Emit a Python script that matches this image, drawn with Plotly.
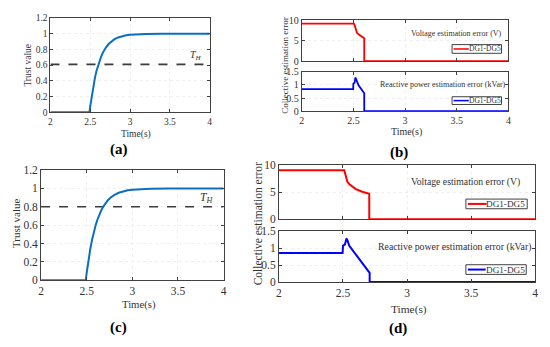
import plotly.graph_objects as go

W, H = 550, 347

# ---------------- data ----------------
time_trust = [2.0, 2.49, 2.50, 2.52, 2.54, 2.56, 2.58, 2.60, 2.62, 2.64, 2.66, 2.68, 2.70,
              2.73, 2.76, 2.80, 2.85, 2.90, 2.95, 3.00, 3.10, 3.20, 3.40, 4.0]
trust_value = [0, 0, 0.081, 0.224, 0.345, 0.447, 0.534, 0.606, 0.667, 0.719, 0.763, 0.800, 0.831,
               0.869, 0.899, 0.928, 0.953, 0.969, 0.980, 0.987, 0.994, 0.998, 1.0, 1.0]
th_a = 0.61
th_c = 0.80
th_x = [2.0, 4.0]

tb_v = [2.0, 2.505, 2.515, 2.525, 2.535, 2.55, 2.575, 2.605, 2.605, 4.0]
vb = [9.2, 9.2, 8.6, 7.8, 6.9, 6.6, 6.1, 5.6, 0, 0]
tb_q = [2.0, 2.498, 2.50, 2.512, 2.52, 2.535, 2.55, 2.605, 2.605, 4.0]
qb = [0.84, 0.84, 1.05, 1.08, 1.28, 1.12, 0.98, 0.68, 0, 0]

td_v = [2.0, 2.51, 2.515, 2.525, 2.535, 2.55, 2.575, 2.60, 2.65, 2.705, 2.705, 4.0]
vd = [9.1, 9.1, 8.6, 7.8, 6.9, 6.5, 6.0, 5.6, 5.1, 4.75, 0, 0]
td_q = [2.0, 2.497, 2.50, 2.515, 2.527, 2.535, 2.548, 2.60, 2.65, 2.708, 2.708, 4.0]
qd = [0.85, 0.85, 1.07, 1.10, 1.28, 1.22, 1.07, 0.81, 0.56, 0.27, 0, 0]

x_ticks = [2, 2.5, 3, 3.5, 4]
x_tick_text = ["2", "2.5", "3", "3.5", "4"]
trust_ticks = [0, 0.2, 0.4, 0.6, 0.8, 1.0, 1.2]
trust_tick_text = ["0", "0.2", "0.4", "0.6", "0.8", "1", "1.2"]
v_ticks = [0, 5, 10]
q_ticks = [0, 0.5, 1, 1.5]
q_tick_text = ["0", "0.5", "1", "1.5"]

# ---------------- helpers ----------------
def xd(l, r):
    return [l / W, r / W]

def yd(t, b):
    return [1 - b / H, 1 - t / H]

def px(x):
    return x / W

def py(y):
    return 1 - y / H

FONT = "Liberation Serif"
AX = "#404040"
TXT = "#333333"

def axis(domain, rng, tickvals, ticktext, size, anchor, showlabels=True):
    return dict(domain=domain, range=rng, tickvals=tickvals, ticktext=ticktext,
                showticklabels=showlabels, showline=True, linecolor=AX, linewidth=1,
                mirror="allticks", ticks="inside", ticklen=3, tickcolor=AX,
                zeroline=False, showgrid=True, gridcolor="#efefef", griddash="dot",
                tickfont=dict(family=FONT, size=size, color=TXT), anchor=anchor)

fig = go.Figure()
blue_t = "#0a6fc2"

# (a)
fig.add_trace(go.Scatter(x=th_x, y=[th_a, th_a], mode="lines",
                         line=dict(color="#3c3c3c", width=1.6, dash="dash"), xaxis="x", yaxis="y"))
fig.add_trace(go.Scatter(x=time_trust, y=trust_value, mode="lines",
                         line=dict(color=blue_t, width=2), xaxis="x", yaxis="y"))
# (b)
fig.add_trace(go.Scatter(x=tb_v, y=vb, mode="lines", line=dict(color="#ff0000", width=1.8),
                         xaxis="x2", yaxis="y2"))
fig.add_trace(go.Scatter(x=tb_q, y=qb, mode="lines", line=dict(color="#0000ff", width=1.8),
                         xaxis="x3", yaxis="y3"))
# (c)
fig.add_trace(go.Scatter(x=th_x, y=[th_c, th_c], mode="lines",
                         line=dict(color="#3c3c3c", width=1.6, dash="dash"), xaxis="x4", yaxis="y4"))
fig.add_trace(go.Scatter(x=time_trust, y=trust_value, mode="lines",
                         line=dict(color=blue_t, width=2), xaxis="x4", yaxis="y4"))
# (d)
fig.add_trace(go.Scatter(x=td_v, y=vd, mode="lines", line=dict(color="#ff0000", width=2),
                         xaxis="x5", yaxis="y5"))
fig.add_trace(go.Scatter(x=td_q, y=qd, mode="lines", line=dict(color="#0000ff", width=2),
                         xaxis="x6", yaxis="y6"))

fig.update_layout(
    width=W, height=H, margin=dict(l=0, r=0, t=0, b=0),
    paper_bgcolor="white", plot_bgcolor="white", showlegend=False,
    font=dict(family=FONT),
    xaxis=axis(xd(48, 209), [2, 4], x_ticks, x_tick_text, 9.5, "y"),
    yaxis=axis(yd(12.5, 110), [0, 1.2], trust_ticks, trust_tick_text, 9.5, "x"),
    xaxis2=axis(xd(302, 511), [2, 4], x_ticks, x_tick_text, 10, "y2", showlabels=False),
    yaxis2=axis(yd(15, 57), [0, 10], v_ticks, ["0", "5", "10"], 10, "x2"),
    xaxis3=axis(xd(302, 511), [2, 4], x_ticks, x_tick_text, 10, "y3"),
    yaxis3=axis(yd(68, 109), [0, 1.5], q_ticks, q_tick_text, 10, "x3"),
    xaxis4=axis(xd(38.5, 223), [2, 4], x_ticks, x_tick_text, 11.5, "y4"),
    yaxis4=axis(yd(170, 284), [0, 1.2], trust_ticks, trust_tick_text, 11.5, "x4"),
    xaxis5=axis(xd(279, 538), [2, 4], x_ticks, x_tick_text, 11.5, "y5", showlabels=False),
    yaxis5=axis(yd(165, 221), [0, 10], v_ticks, ["0", "5", "10"], 11.5, "x5"),
    xaxis6=axis(xd(279, 538), [2, 4], x_ticks, x_tick_text, 11.5, "y6"),
    yaxis6=axis(yd(233, 286), [0, 1.5], q_ticks, q_tick_text, 11.5, "x6"),
)

anns = []
def ann(text, x, y, size, angle=0, bold=False):
    t = f"<b>{text}</b>" if bold else text
    anns.append(dict(text=t, x=px(x), y=py(y), xref="paper", yref="paper",
                     xanchor="center", yanchor="middle", showarrow=False, textangle=angle,
                     font=dict(family=FONT, size=size, color=TXT if not bold else "black")))

ann("Trust value", 25, 61, 9.5, -90)
ann("Time(s)", 134, 133.5, 9.5)
ann("(a)", 117, 149, 15, bold=True)
ann("<i>T<sub>H</sub></i>", 195, 51, 10)

ann("Collective estimation error", 285, 62, 9, -90)
ann("Time(s)", 408, 130, 10)
ann("(b)", 400, 152, 15, bold=True)
ann("Voltage estimation error (V)", 458, 28, 8)
ann("Reactive power estimation error (kVar)", 445, 81, 8)
ann("DG1-DG5", 487.5, 44.5, 7.5)
ann("DG1-DG5", 487.5, 98, 7.5)

ann("Trust value", 13, 225, 11, -90)
ann("Time(s)", 137, 309, 10.7)
ann("(c)", 117, 333, 15, bold=True)
ann("<i>T<sub>H</sub></i>", 206, 199, 11.5)

ann("Collective estimation error", 258, 226, 11.5, -90)
ann("Time(s)", 410, 314, 11.4)
ann("(d)", 399, 334, 15, bold=True)
ann("Voltage estimation error (V)", 468, 182, 9.7)
ann("Reactive power estimation error (kVar)", 456, 250, 9.8)
ann("DG1-DG5", 508.5, 205, 9.2)
ann("DG1-DG5", 508, 273, 9.2)

shapes = []
def rect(x0, x1, y0, y1):
    shapes.append(dict(type="rect", xref="paper", yref="paper", x0=px(x0), x1=px(x1),
                       y0=py(y1), y1=py(y0), line=dict(color=AX, width=1), fillcolor="white",
                       layer="above"))

def seg(x0, x1, y, color, w):
    shapes.append(dict(type="line", xref="paper", yref="paper", x0=px(x0), x1=px(x1),
                       y0=py(y), y1=py(y), line=dict(color=color, width=w), layer="above"))

rect(454, 504, 40, 49); seg(455.5, 471, 44.5, "#ff0000", 1.5)
rect(454, 504, 94, 102); seg(455.5, 471, 98, "#0000ff", 1.5)
rect(468, 530, 200, 210); seg(470, 489, 205, "#ff0000", 2)
rect(468, 529, 268, 278); seg(470, 488, 273, "#0000ff", 2)

fig.update_layout(annotations=anns, shapes=shapes)
fig.write_html("out.html", config={"displayModeBar": False},
               post_script="document.body.style.margin='0';document.body.style.padding='0';document.body.style.overflow='hidden';")
